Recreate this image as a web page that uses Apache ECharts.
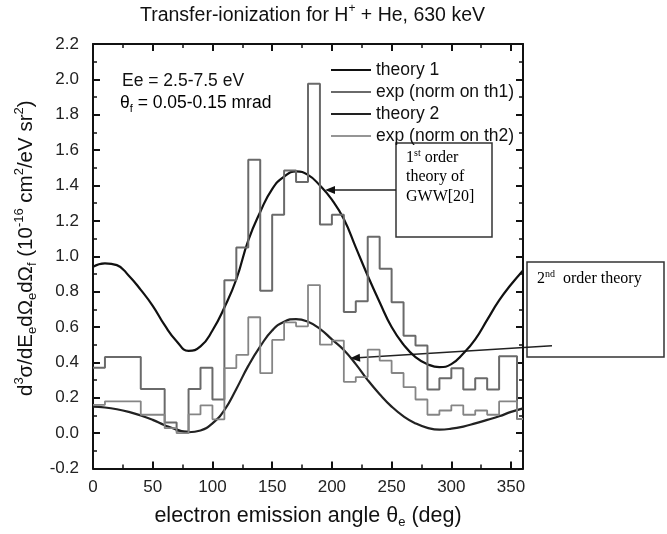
<!DOCTYPE html>
<html>
<head>
<meta charset="utf-8">
<script src="https://cdn.jsdelivr.net/npm/echarts@6/dist/echarts.min.js"></script>
<style>html,body{margin:0;padding:0;background:#fff}#main{width:667px;height:534px}</style>
</head>
<body>
<div id="main"></div>
<script>
// emission angles (deg) for the theory curves
var angles = [0, 10, 20, 30, 40, 50, 60, 70, 80, 90, 100, 110, 120, 130, 140, 150, 160, 170, 180,
  190, 200, 210, 220, 230, 240, 250, 260, 270, 280, 290, 300, 310, 320, 330, 340, 350, 360];
var theory1 = [0.94, 0.96, 0.95, 0.89, 0.81, 0.72, 0.61, 0.52, 0.465, 0.49, 0.58, 0.71, 0.87, 1.09, 1.25, 1.38, 1.45, 1.48, 1.46,
  1.40, 1.32, 1.21, 1.05, 0.89, 0.74, 0.60, 0.50, 0.43, 0.39, 0.373, 0.39, 0.45, 0.53, 0.64, 0.75, 0.84, 0.92];
var theory2 = [0.15, 0.145, 0.135, 0.12, 0.10, 0.075, 0.045, 0.02, 0.005, 0.015, 0.055, 0.13, 0.25, 0.38, 0.49, 0.58, 0.63, 0.645, 0.63,
  0.59, 0.53, 0.47, 0.39, 0.30, 0.22, 0.15, 0.095, 0.055, 0.03, 0.02, 0.025, 0.037, 0.055, 0.075, 0.095, 0.12, 0.14];

// histogram bins (left edges, deg) and measured values
var binStarts = [0, 10, 20, 30, 40, 50, 60, 70, 80, 90, 100, 110, 120, 130, 140, 150, 160, 170, 180,
  190, 200, 210, 220, 230, 240, 250, 260, 270, 280, 290, 300, 310, 320, 330, 340, 350, 355];
var binEnd = 360;
var expTh1 = [0.37, 0.43, 0.43, 0.43, 0.25, 0.25, 0.06, 0.01, 0.25, 0.37, 0.19, 0.865, 1.05, 1.545, 0.805, 1.235, 1.485, 1.42, 1.975,
  1.18, 1.235, 0.685, 0.745, 1.11, 0.93, 0.74, 0.55, 0.495, 0.247, 0.31, 0.367, 0.247, 0.31, 0.247, 0.435, 0.435, 0.08];
var expTh2 = [0.16, 0.18, 0.18, 0.18, 0.104, 0.104, 0.028, 0.0, 0.106, 0.157, 0.078, 0.368, 0.442, 0.655, 0.339, 0.527, 0.626, 0.604, 0.837,
  0.50, 0.523, 0.29, 0.317, 0.472, 0.41, 0.34, 0.26, 0.19, 0.104, 0.128, 0.157, 0.104, 0.128, 0.104, 0.179, 0.179, 0.08];

var sans = 'Liberation Sans, Arial, sans-serif';
var serif = 'Liberation Serif, Times New Roman, serif';

function pairs(xs, ys) {
  return xs.map(function (x, i) { return [x, ys[i]]; });
}
function steps(ys) {
  return pairs(binStarts, ys).concat([[binEnd, ys[ys.length - 1]]]);
}

function richSans(size) {
  var small = Math.round(size * 0.62);
  return {
    n: { fontSize: size, fontFamily: sans, fontWeight: 'normal', color: '#111', lineHeight: size + 5 },
    sup: { fontSize: small, fontFamily: sans, fontWeight: 'normal', color: '#111', verticalAlign: 'top', lineHeight: small + 1 },
    sub: { fontSize: small, fontFamily: sans, fontWeight: 'normal', color: '#111', verticalAlign: 'bottom', lineHeight: small + 1 }
  };
}

var myChart = echarts.init(document.getElementById('main'));

var axisCommon = {
  type: 'value',
  axisLine: { show: true, onZero: false, lineStyle: { color: '#111', width: 2 } },
  axisTick: { show: true, inside: true, length: 7, lineStyle: { color: '#111', width: 2 } },
  minorTick: { show: true, splitNumber: 2, length: 4, lineStyle: { color: '#111', width: 1.5 } },
  splitLine: { show: false }
};

var option = {
  animation: false,
  backgroundColor: '#fff',
  title: {
    text: '{n|Transfer-ionization for H}{sup|+}{n| + He, 630 keV}',
    left: 140,
    top: 3,
    padding: 0,
    textStyle: { rich: richSans(19.5) }
  },
  legend: {
    orient: 'vertical',
    left: 331,
    top: 61,
    padding: 0,
    icon: 'rect',
    itemWidth: 40,
    itemHeight: 2,
    itemGap: 4,
    textStyle: { fontSize: 17.5, fontFamily: sans, color: '#111', lineHeight: 17 },
    data: ['theory 1', 'exp (norm on th1)', 'theory 2', 'exp (norm on th2)']
  },
  grid: { left: 93, right: 144, top: 44, bottom: 64 },
  xAxis: [
    Object.assign({}, axisCommon, {
      min: 0, max: 360, interval: 50,
      position: 'bottom',
      axisLabel: { fontSize: 17, fontFamily: sans, color: '#222', margin: 10, showMaxLabel: false },
      name: '{n|electron emission angle θ}{sub|e}{n| (deg)}',
      nameLocation: 'middle',
      nameGap: 34,
      nameTextStyle: { rich: richSans(21.5) }
    }),
    Object.assign({}, axisCommon, {
      min: 0, max: 360, interval: 50,
      position: 'top',
      axisLabel: { show: false }
    })
  ],
  yAxis: [
    Object.assign({}, axisCommon, {
      min: -0.2, max: 2.2, interval: 0.2,
      position: 'left',
      axisLabel: {
        fontSize: 17, fontFamily: sans, color: '#222', margin: 14,
        formatter: function (v) { return v.toFixed(1); }
      },
      name: '{n|d}{sup|3}{n|σ/dE}{sub|e}{n|dΩ}{sub|e}{n|dΩ}{sub|f}{n| (10}{sup|-16}{n| cm}{sup|2}{n|/eV sr}{sup|2}{n|)}',
      nameLocation: 'middle',
      nameGap: 50,
      nameTextStyle: { rich: richSans(20.5), padding: [0, 0, 0, 16] }
    }),
    Object.assign({}, axisCommon, {
      min: -0.2, max: 2.2, interval: 0.2,
      position: 'right',
      axisLabel: { show: false }
    })
  ],
  series: [
    {
      name: 'theory 1', type: 'line', smooth: true, symbol: 'none',
      lineStyle: { color: '#111', width: 2.2 }, itemStyle: { color: '#111' },
      data: pairs(angles, theory1)
    },
    {
      name: 'exp (norm on th1)', type: 'line', step: 'end', symbol: 'none',
      lineStyle: { color: '#6a6a6a', width: 2 }, itemStyle: { color: '#6a6a6a' },
      data: steps(expTh1)
    },
    {
      name: 'theory 2', type: 'line', smooth: true, symbol: 'none',
      lineStyle: { color: '#222', width: 2.2 }, itemStyle: { color: '#222' },
      data: pairs(angles, theory2)
    },
    {
      name: 'exp (norm on th2)', type: 'line', step: 'end', symbol: 'none',
      lineStyle: { color: '#858585', width: 1.8 }, itemStyle: { color: '#959595' },
      data: steps(expTh2)
    }
  ],
  graphic: [
    { type: 'text', x: 122, y: 72, style: { text: 'Ee = 2.5-7.5 eV', fontSize: 17.5, fontFamily: sans, fill: '#111' } },
    { type: 'text', x: 120, y: 92, style: { text: '{n|θ}{sub|f}{n| = 0.05-0.15 mrad}', rich: richSans(17.5) } },
    { type: 'rect', shape: { x: 396, y: 143, width: 96, height: 94 }, style: { fill: '#fff', stroke: '#333', lineWidth: 1.5 } },
    {
      type: 'text', x: 406, y: 148,
      style: {
        text: '{n|1}{sup|st}{n| order}\n{n|theory of}\n{n|GWW[20]}',
        rich: {
          n: { fontSize: 16, fontFamily: serif, color: '#222', lineHeight: 19.5 },
          sup: { fontSize: 10, fontFamily: serif, color: '#222', verticalAlign: 'top', lineHeight: 11 }
        }
      }
    },
    { type: 'line', shape: { x1: 396, y1: 190, x2: 333, y2: 190 }, style: { stroke: '#222', lineWidth: 1.5 } },
    { type: 'polygon', shape: { points: [[325, 190], [335, 186], [335, 194]] }, style: { fill: '#111' } },
    { type: 'rect', shape: { x: 527, y: 262, width: 137, height: 95 }, style: { fill: '#fff', stroke: '#333', lineWidth: 1.5 } },
    {
      type: 'text', x: 537, y: 269,
      style: {
        text: '{n|2}{sup|nd}{n|  order theory}',
        rich: {
          n: { fontSize: 16, fontFamily: serif, color: '#222', lineHeight: 19 },
          sup: { fontSize: 10, fontFamily: serif, color: '#222', verticalAlign: 'top', lineHeight: 11 }
        }
      }
    },
    { type: 'line', shape: { x1: 552, y1: 345.7, x2: 358, y2: 357.8 }, style: { stroke: '#222', lineWidth: 1.5 } },
    { type: 'polygon', shape: { points: [[350, 358.3], [359.7, 353.7], [360.3, 361.7]] }, style: { fill: '#111' } }
  ]
};

myChart.setOption(option);
</script>
</body>
</html>
